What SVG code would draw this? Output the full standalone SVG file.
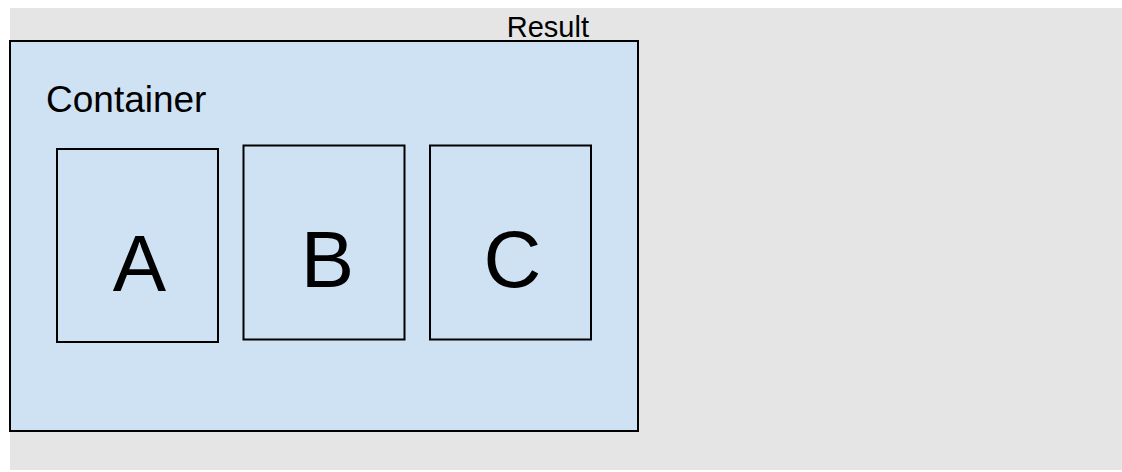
<svg xmlns="http://www.w3.org/2000/svg" width="1122" height="472" viewBox="0 0 1122 472">
  <style>
    .lbl { font-family: "Liberation Sans", Arial, sans-serif; fill: #000000; }
    .panel { fill: #cfe2f3; stroke: #000000; stroke-width: 2; }
    .item { fill: #cfe2f3; stroke: #000000; stroke-width: 2; }
    .big { font-size: 80px; text-anchor: middle; }
  </style>
  <rect x="0" y="0" width="1122" height="472" fill="#ffffff"/>
  <!-- result area -->
  <rect id="result-area" x="10" y="8" width="1112" height="462" fill="#e5e5e5"/>
  <text id="result-label" class="lbl" x="589" y="37" font-size="29" text-anchor="end">Result</text>

  <g id="container">
    <rect class="panel" x="10" y="41" width="628" height="390"/>
    <text class="lbl" x="46" y="112" font-size="37">Container</text>
  </g>

  <g id="node-a">
    <rect class="item" x="57" y="149" width="161" height="193"/>
    <text class="lbl big" x="139.5" y="291">A</text>
  </g>
  <g id="node-b">
    <rect class="item" x="243.5" y="145.5" width="161" height="194"/>
    <text class="lbl big" x="327.5" y="287">B</text>
  </g>
  <g id="node-c">
    <rect class="item" x="430" y="145.5" width="161" height="194"/>
    <text class="lbl big" x="512.5" y="287">C</text>
  </g>

  <g id="connectors"/>
</svg>
